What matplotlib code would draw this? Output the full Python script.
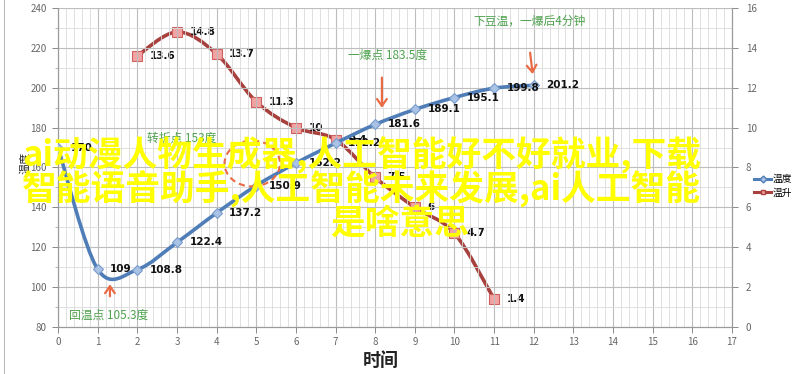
# 温度 / 温升 chart (coffee roast curve)

import numpy as np
import matplotlib.pyplot as plt
from matplotlib.path import Path
from matplotlib.patches import PathPatch, Ellipse
from matplotlib.lines import Line2D
from matplotlib.ticker import MultipleLocator

plt.rcParams['font.family'] = ['Noto Sans CJK SC', 'DejaVu Sans']

# data
minutes_temp = [0, 1, 2, 3, 4, 5, 6, 7, 8, 9, 10, 11, 12]
temp = [170, 109, 108.8, 122.4, 137.2, 150.9, 162.2, 172.2, 181.6, 189.1, 195.1, 199.8, 201.2]
minutes_rise = [2, 3, 4, 5, 6, 7, 8, 9, 10, 11]
rise = [13.6, 14.8, 13.7, 11.3, 10, 9.4, 7.5, 6, 4.7, 1.4]

overlay_lines = ["ai动漫人物生成器,人工智能好不好就业,下载",
                 "智能语音助手,人工智能未来发展,ai人工智能",
                 "是啥意思"]

blue = '#4F7DB8'
blue_fill = '#A9C3E6'
red = '#A8413E'
red_fill = '#F2A3A3'
green = '#4EA24E'
orange = '#EA6A45'
grey_txt = '#666666'


def smooth_path(xs, ys):
    # Excel-like smoothed line drawn as cubic Bezier segments
    pts = np.column_stack([xs, ys]).astype(float)
    n = len(pts)
    verts = [pts[0]]
    codes = [Path.MOVETO]
    for i in range(n - 1):
        p0 = pts[i - 1] if i > 0 else pts[i]
        p1 = pts[i]
        p2 = pts[i + 1]
        p3 = pts[i + 2] if i + 2 < n else pts[i + 1]
        c1 = p1 + (p2 - p0) / 6.0
        c2 = p2 - (p3 - p1) / 6.0
        verts += [c1, c2, p2]
        codes += [Path.CURVE4] * 3
    return Path(verts, codes)


fig = plt.figure(figsize=(8, 3.74), dpi=100)
ax = fig.add_axes([0.0725, 0.1257, 0.8425, 0.8529])
ax2 = ax.twinx()

# axes setup
ax.set_xlim(0, 17)
ax.set_ylim(80, 240)
ax2.set_ylim(0, 16)
ax.set_xticks(range(0, 18))
ax.set_yticks(range(80, 241, 20))
ax2.set_yticks(range(0, 17, 2))
ax.xaxis.set_minor_locator(MultipleLocator(0.2))
ax.yaxis.set_minor_locator(MultipleLocator(10))
ax.grid(which='major', color='#BDBDBD', linewidth=0.8)
ax.grid(which='minor', color='#DADADA', linewidth=0.6)
ax.set_axisbelow(True)

for a in (ax, ax2):
    for s in a.spines.values():
        s.set_color('#9A9A9A')
        s.set_linewidth(0.8)
    a.spines['top'].set_visible(False)
    a.tick_params(which='major', labelsize=7, colors='#8A8A8A', labelcolor=grey_txt, length=4, width=0.7)
    a.tick_params(which='minor', length=2, colors='#AAAAAA')
ax.tick_params(axis='x', which='minor', length=0)
ax.tick_params(axis='y', which='major', pad=4)
ax2.tick_params(axis='y', which='major', pad=6)

ax.set_xlabel('时间', fontsize=13, fontweight='bold', color='#222222')
ax.xaxis.set_label_coords(0.479, -0.075)
fig.text(0.032, 0.565, '温度', rotation=90, fontsize=8, color='#222222',
         ha='center', va='center')

# series
ax2.add_patch(PathPatch(smooth_path(minutes_rise, rise), facecolor='none',
                        edgecolor=red, linewidth=2.6, zorder=3))
ax2.plot(minutes_rise, rise, linestyle='none', marker='s', markersize=7,
         markerfacecolor=red_fill, markeredgecolor='#D06060', markeredgewidth=0.8, zorder=4)
ax.add_patch(PathPatch(smooth_path(minutes_temp, temp), facecolor='none',
                       edgecolor=blue, linewidth=2.6, zorder=5))
ax.plot(minutes_temp, temp, linestyle='none', marker='D', markersize=5.5,
        markerfacecolor=blue_fill, markeredgecolor='#7A9CCB', markeredgewidth=0.8, zorder=6)
ax.set_zorder(ax2.get_zorder() + 1)
ax.patch.set_visible(False)

for xv, yv in zip(minutes_temp, temp):
    ax.annotate(f'{yv:g}', (xv, yv), xytext=(9, 0), textcoords='offset points',
                fontsize=7.5, fontweight='bold', color='#111111', va='center',
                family=['DejaVu Sans'], zorder=7)
for xv, yv in zip(minutes_rise, rise):
    ax2.annotate(f'{yv:g}', (xv, yv), xytext=(9, 0), textcoords='offset points',
                 fontsize=7.5, fontweight='bold', color='#111111', va='center',
                 family=['DejaVu Sans'], zorder=7)

# hand-drawn notes
ax.text(11.9, 233.5, '下豆温，一爆后4分钟', color=green, fontsize=8.5, ha='center', va='center')
ax.text(8.3, 216.5, '一爆点 183.5度', color=green, fontsize=8.5, ha='center', va='center')
ax.text(3.13, 174.5, '转折点 153度', color=green, fontsize=8.5, ha='center', va='center')
ax.text(1.28, 86, '回温点 105.3度', color=green, fontsize=8.5, ha='center', va='center')

arrow_kw = dict(arrowstyle='->,head_length=0.5,head_width=0.35', color=orange, linewidth=1.6)
ax.annotate('', xy=(8.17, 188.5), xytext=(8.17, 206.5), arrowprops=arrow_kw, zorder=8)
ax.annotate('', xy=(11.98, 205.5), xytext=(11.9, 219), arrowprops=arrow_kw, zorder=8)
ax.annotate('', xy=(1.31, 102.8), xytext=(1.31, 94), arrowprops=arrow_kw, zorder=8)
ax.add_patch(Ellipse((4.9, 162), 1.4, 23, fill=False, edgecolor=orange,
                     linestyle=(0, (3, 2)), linewidth=1.5, zorder=8))

# legend
handles = [Line2D([], [], color=blue, linewidth=2.2, marker='D', markersize=3.5,
                  markerfacecolor=blue_fill, markeredgecolor=blue),
           Line2D([], [], color=red, linewidth=2.2, marker='s', markersize=3.5,
                  markerfacecolor=red_fill, markeredgecolor=red)]
fig.legend(handles, ['温度', '温升'], loc='center left', bbox_to_anchor=(0.932, 0.503),
           frameon=False, fontsize=7, handlelength=1.7, handletextpad=0.2, labelspacing=0.35)

# outer frame line
fig.add_artist(Line2D([0.005, 0.005], [0.0, 1.0], color='#BBBBBB', linewidth=0.8))

# overlay caption
ys = [0.585, 0.493, 0.400]
xs = [0.452, 0.452, 0.5]
for txt, xf, yf in zip(overlay_lines, xs, ys):
    fig.text(xf, yf, txt, color='#FFFF00', fontsize=25, fontweight='bold',
             ha='center', va='center', zorder=20)

fig.savefig('out.png', dpi=100)
